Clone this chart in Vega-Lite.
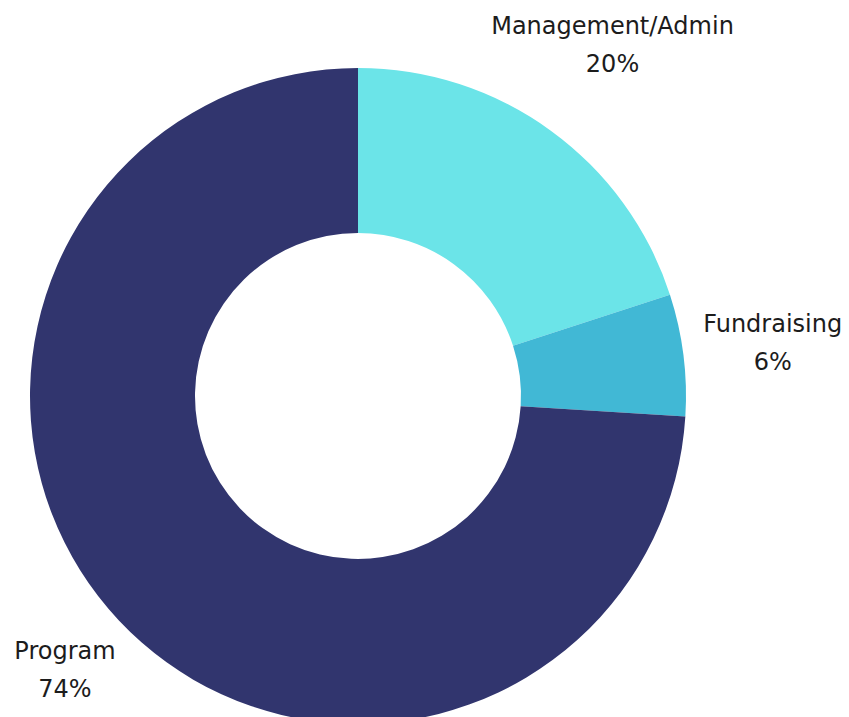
{
  "$schema": "https://vega.github.io/schema/vega-lite/v6.json",
  "autosize": "none",
  "padding": {"left": 0, "top": 0, "right": 133, "bottom": 0},
  "width": 716,
  "height": 792,
  "background": "white",
  "view": {"stroke": null},
  "data": {
    "values": [
      {"category": "Management/Admin", "value": 20, "rank": 1, "label": "Management/Admin\n20%"},
      {"category": "Fundraising", "value": 6, "rank": 2, "label": "Fundraising\n6%"},
      {"category": "Program", "value": 74, "rank": 3, "label": "Program\n74%"}
    ]
  },
  "encoding": {
    "theta": {"field": "value", "type": "quantitative", "stack": true},
    "order": {"field": "rank", "type": "quantitative"}
  },
  "layer": [
    {
      "mark": {"type": "arc", "outerRadius": 328, "innerRadius": 163},
      "encoding": {
        "color": {
          "field": "category",
          "type": "nominal",
          "scale": {"domain": ["Management/Admin", "Fundraising", "Program"], "range": ["#6BE4E8", "#41B8D5", "#31356E"]},
          "legend": null
        }
      }
    },
    {
      "mark": {"type": "text", "radius": 433, "dy": -19, "font": "DejaVu Sans", "fontSize": 24, "lineBreak": "\n", "lineHeight": 38, "align": "center", "baseline": "middle", "color": "#1c1c1c"},
      "encoding": {
        "text": {"condition": {"test": "datum.category === 'Management/Admin'", "field": "label"}, "value": ""}
      }
    },
    {
      "mark": {"type": "text", "radius": 418, "dy": -19, "font": "DejaVu Sans", "fontSize": 24, "lineBreak": "\n", "lineHeight": 38, "align": "center", "baseline": "middle", "color": "#1c1c1c"},
      "encoding": {
        "text": {"condition": {"test": "datum.category === 'Fundraising'", "field": "label"}, "value": ""}
      }
    },
    {
      "mark": {"type": "text", "radius": 402, "dy": -19, "font": "DejaVu Sans", "fontSize": 24, "lineBreak": "\n", "lineHeight": 38, "align": "center", "baseline": "middle", "color": "#1c1c1c"},
      "encoding": {
        "text": {"condition": {"test": "datum.category === 'Program'", "field": "label"}, "value": ""}
      }
    }
  ]
}
